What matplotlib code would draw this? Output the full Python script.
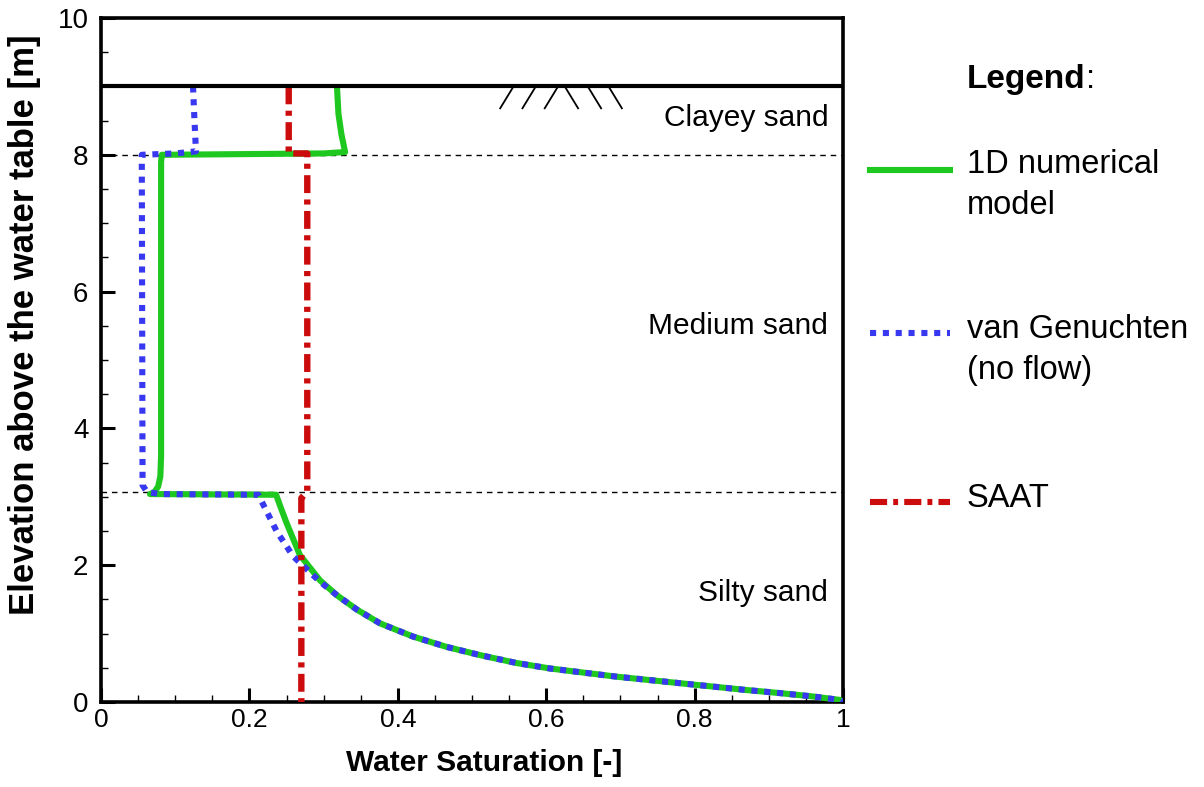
import matplotlib
matplotlib.use("Agg")
import matplotlib.pyplot as plt
from matplotlib.lines import Line2D
from matplotlib.ticker import MultipleLocator, FixedLocator

plt.rcParams['font.family'] = ['Liberation Sans', 'DejaVu Sans']

# shared unsaturated tail in the silty sand (both models coincide here)
tail_sat = [0.318, 0.345, 0.376, 0.421, 0.466, 0.511, 0.560, 0.605, 0.650, 0.695,
            0.740, 0.798, 0.825, 0.870, 0.915, 0.960, 0.996, 1.000]
tail_elev = [1.56, 1.35, 1.15, 0.955, 0.805, 0.685, 0.57, 0.49, 0.43, 0.37,
             0.32, 0.255, 0.225, 0.175, 0.13, 0.08, 0.03, 0.00]

# 1D numerical model (water saturation, elevation)
num_sat = [0.318, 0.320, 0.324, 0.329, 0.300, 0.082, 0.081, 0.081, 0.080, 0.077, 0.072, 0.066,
           0.236, 0.242, 0.250, 0.268, 0.295] + tail_sat
num_elev = [9.00, 8.60, 8.30, 8.04, 8.02, 8.00, 7.90, 3.60, 3.30, 3.15, 3.07, 3.04,
            3.03, 2.85, 2.62, 2.15, 1.78] + tail_elev

# van Genuchten (no flow)
vg_sat = [0.124, 0.126, 0.128, 0.100, 0.055, 0.055, 0.056, 0.062, 0.080,
          0.212, 0.237, 0.259, 0.295] + tail_sat
vg_elev = [9.00, 8.50, 8.05, 8.02, 8.00, 7.80, 3.17, 3.07, 3.04,
           3.03, 2.49, 2.13, 1.76] + tail_elev

# SAAT
saat_sat = [0.253, 0.253, 0.278, 0.278, 0.270, 0.270]
saat_elev = [9.00, 8.02, 8.02, 3.08, 2.98, 0.00]

layer_tops = [8.0, 3.07]
ground = 9.0
layer_names = ["Clayey sand", "Medium sand", "Silty sand"]
layer_label_y = [8.54, 5.49, 1.60]

green = '#1ec81e'
blue = '#3838f0'
red = '#cc0c0c'
vg_ls = (0, (1.0, 1.1))
saat_ls = (0, (2.8, 1.0, 0.8, 1.0))

fig = plt.figure(figsize=(12.04, 7.87), dpi=100)
ax = fig.add_axes([101 / 1204, 1 - 702 / 787, 742 / 1204, 684 / 787])

ax.plot(num_sat, num_elev, color=green, lw=4.4, solid_capstyle='butt', solid_joinstyle='round', zorder=4)
ax.plot(vg_sat, vg_elev, color=blue, lw=4.4, linestyle=vg_ls, dash_capstyle='butt', zorder=5)
ax.plot(saat_sat, saat_elev, color=red, lw=4.6, linestyle=saat_ls, zorder=6)

for y in layer_tops:
    ax.axhline(y, color='black', lw=1.0, linestyle=(0, (4, 3.5)), zorder=2)
ax.axhline(ground, color='black', lw=3.0, zorder=7)

# ground surface hatching
hatch_x = [0.556, 0.586, 0.616, 0.625, 0.656, 0.684]
hatch_dir = [-1, -1, -1, 1, 1, 1]
for hx, d in zip(hatch_x, hatch_dir):
    ax.plot([hx, hx + d * 0.018], [ground, ground - 0.32], color='black', lw=1.3, zorder=7)

for name, y in zip(layer_names, layer_label_y):
    ax.text(0.98, y, name, ha='right', va='center', fontsize=21.5)

ax.set_xlim(0, 1)
ax.set_ylim(0, 10)
ax.xaxis.set_major_locator(FixedLocator([0, 0.2, 0.4, 0.6, 0.8, 1.0]))
ax.xaxis.set_minor_locator(MultipleLocator(0.05))
ax.yaxis.set_major_locator(MultipleLocator(2))
ax.yaxis.set_minor_locator(MultipleLocator(0.5))
ax.set_xticklabels(['0', '0.2', '0.4', '0.6', '0.8', '1'])
ax.tick_params(which='both', direction='in', top=False, right=False)
ax.tick_params(which='major', length=10, width=2.2)
ax.tick_params(which='minor', length=5, width=1.0)
ax.tick_params(axis='x', labelsize=19, pad=4)
ax.tick_params(axis='y', labelsize=20, pad=9)
for s in ax.spines.values():
    s.set_linewidth(2.6)

fig.text(484 / 1204, 1 - 763 / 787, "Water Saturation [-]", ha='center', va='center',
         fontsize=21.5, fontweight='bold')
fig.text(25 / 1204, 1 - 325 / 787, "Elevation above the water table [m]", ha='center', va='center',
         rotation=90, fontsize=25, fontweight='bold')

# legend drawn beside the axes
leg = fig.text(967 / 1204, 1 - 88 / 787, "Legend", ha='left', va='baseline', fontsize=24, fontweight='bold')
fig.canvas.draw()
bb = leg.get_window_extent()
fig.text(bb.x1 / 1204, 1 - 88 / 787, ":", ha='left', va='baseline', fontsize=24)

entries = [(["1D numerical", "model"], green, '-', 170, 173),
           (["van Genuchten", "(no flow)"], blue, vg_ls, 333, 338),
           (["SAAT"], red, saat_ls, 502, 507)]
for lines, col, ls, ly, ty in entries:
    fig.add_artist(Line2D([870 / 1204, 950 / 1204], [1 - ly / 787, 1 - ly / 787], color=col,
                          lw=4.4, linestyle=ls, transform=fig.transFigure))
    for i, line in enumerate(lines):
        fig.text(967 / 1204, 1 - (ty + 41 * i) / 787, line, ha='left', va='baseline', fontsize=23.5)

fig.savefig('out.png', dpi=100)
